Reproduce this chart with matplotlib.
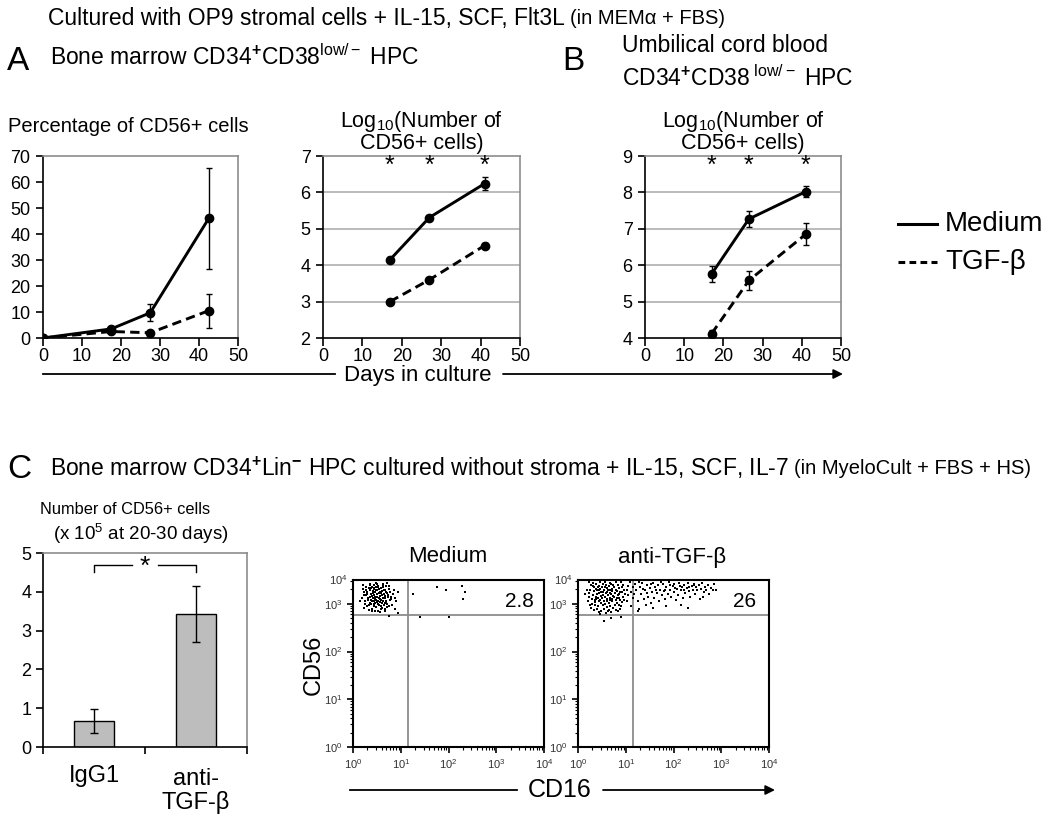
import matplotlib
matplotlib.use('Agg')
import matplotlib.pyplot as plt
import numpy as np

plt.rcParams['font.family'] = ['Liberation Sans', 'DejaVu Sans']
plt.rcParams['mathtext.fontset'] = 'custom'
plt.rcParams['mathtext.rm'] = 'Liberation Sans'
plt.rcParams['mathtext.it'] = 'Liberation Sans:italic'
plt.rcParams['mathtext.bf'] = 'Liberation Sans:bold'

# ---------------- data ----------------
# Panel A (bone marrow) percentage of CD56+ cells
pct_days = [0, 17.5, 27.5, 42.5]
pct_medium = [0, 3.5, 9.7, 46.0]
pct_medium_err = [0, 0.8, 3.3, 19.5]
pct_tgf = [0, 2.5, 2.0, 10.5]
pct_tgf_err = [0, 0.6, 0.5, 6.5]

# Panel A log10 number of CD56+ cells
a_days = [17, 27, 41]
a_medium = [4.15, 5.31, 6.24]
a_medium_err = [0.07, 0.05, 0.18]
a_tgf = [3.00, 3.60, 4.54]
a_tgf_err = [0.06, 0.05, 0.07]

# Panel B (cord blood) log10 number of CD56+ cells
b_days = [17, 26.5, 41]
b_medium = [5.76, 7.27, 8.02]
b_medium_err = [0.23, 0.23, 0.16]
b_tgf = [4.12, 5.58, 6.85]
b_tgf_err = [0.10, 0.27, 0.30]

# Panel C bar chart
bar_labels = ['IgG1', 'anti-\nTGF-β']
bar_values = [0.67, 3.43]
bar_err = [0.30, 0.73]

# Flow cytometry events, log10(CD16), log10(CD56)
medium_events = """
0.21 3.32 0.35 3.41 0.48 3.28 0.62 3.35 0.71 3.22 0.55 3.12 0.40 3.05 0.28 3.18 0.66 3.02 0.80 3.15
0.44 2.95 0.58 2.90 0.33 2.88 0.72 2.93 0.50 3.20 0.61 3.26 0.25 3.00 0.85 3.30 0.38 3.33 0.53 3.38
0.46 3.10 0.68 3.12 0.30 3.25 0.57 3.03 0.75 3.38 0.42 3.22 0.64 2.97 0.19 3.12 0.90 3.05 0.52 2.84
0.36 3.14 0.49 3.44 0.60 3.18 0.27 3.36 0.78 3.25 0.45 3.31 0.70 3.06 0.55 2.98 0.34 2.97 0.63 3.42
0.40 3.36 0.58 3.09 0.47 3.02 0.82 2.98 0.23 3.25 0.67 3.30 0.51 3.15 0.39 2.90 0.74 3.18 0.31 3.08
0.56 3.24 0.44 3.18 0.62 3.07 0.35 3.28 0.69 3.37 0.48 2.93 0.59 3.33 0.26 3.06 0.77 3.09 0.43 3.40
0.53 3.07 0.65 3.20 0.37 3.21 0.72 3.00 0.50 3.29 0.29 2.95 0.61 2.92 0.46 3.25 0.84 3.20 0.41 3.12
0.57 3.17 0.33 3.34 0.68 2.89 0.52 3.36 0.22 3.18 0.75 3.31 0.45 3.06 0.63 3.13 0.38 3.00 0.55 3.32
0.47 3.15 0.70 3.24 0.32 3.12 0.58 2.96 0.42 3.27 0.66 3.16 0.49 3.08 0.80 3.10 0.36 3.40 0.54 3.22
0.60 3.01 0.28 3.30 0.73 3.14 0.44 2.99 0.51 3.42 0.64 3.28 0.39 3.17 0.56 3.11 0.87 3.12 0.24 2.92
0.48 3.35 0.69 3.04 0.35 3.02 0.59 3.22 0.43 3.33 0.76 2.95 0.53 3.00 0.30 3.20 0.62 3.38 0.46 2.86
0.95 3.25 0.15 3.05 0.57 2.82 0.72 3.44 0.40 2.84 0.67 2.85 0.20 3.40 0.88 2.90 0.50 3.04 0.37 3.08
1.75 3.35 1.95 3.30 2.28 3.38 2.35 3.25 2.30 3.10 1.25 3.20 2.00 2.72 1.40 2.72 0.75 2.75 0.95 2.80
"""
anti_events = """
0.25 3.30 0.38 3.42 0.50 3.35 0.62 3.28 0.74 3.40 0.86 3.33 0.31 3.18 0.44 3.22 0.57 3.15 0.69 3.20
0.81 3.12 0.93 3.25 0.20 3.05 0.35 3.08 0.48 3.02 0.60 3.10 0.72 3.05 0.85 2.98 0.28 2.92 0.42 2.95
0.55 2.90 0.67 2.96 0.79 2.88 0.33 3.35 0.46 3.45 0.58 3.40 0.71 3.32 0.90 3.45 0.40 3.28 0.53 3.25
0.65 3.38 0.77 3.22 0.24 3.22 0.37 3.15 0.50 3.12 0.63 3.18 0.75 3.14 0.88 3.08 0.30 3.00 0.43 3.05
0.56 3.00 0.68 3.08 0.82 3.02 0.95 3.15 0.27 3.40 0.41 3.36 0.54 3.30 0.66 3.44 0.79 3.30 0.92 3.36
0.36 2.98 0.49 2.85 0.61 2.94 0.74 2.92 0.87 2.90 0.22 3.15 0.34 3.26 0.47 3.32 0.59 3.22 0.71 3.26
0.84 3.18 0.97 3.30 0.29 3.10 0.42 3.12 0.55 3.06 0.67 3.13 0.80 3.08 0.93 3.04 0.39 3.20 0.52 3.18
0.64 3.02 0.76 3.35 0.89 3.24 0.32 3.44 0.45 3.38 0.57 3.46 0.70 3.42 0.83 3.40 0.26 2.98 0.40 2.90
0.52 2.97 0.65 2.88 0.78 2.97 0.91 2.96 0.37 3.32 0.49 3.24 0.61 3.34 0.73 3.16 0.86 3.20 0.99 3.20
0.18 3.28 0.31 3.38 0.44 3.30 0.56 3.36 0.68 3.30 0.81 3.26 0.94 3.40 0.35 3.04 0.47 3.08 0.60 3.05
0.72 3.10 0.85 3.12 0.43 2.82 0.58 2.80 0.70 2.83 0.23 3.45 0.53 3.42 0.66 3.22 0.48 3.16 0.61 3.24
0.38 3.10 0.79 3.46 0.15 3.20 0.62 2.85 0.97 3.08 1.02 3.30 1.05 3.18 0.33 2.87 0.83 2.84 0.46 2.78
1.05 3.38 1.10 3.25 1.15 3.12 1.20 3.42 1.22 3.30 1.25 3.05 1.30 3.36 1.32 3.20 1.35 3.44 1.38 3.10
1.40 3.28 1.45 3.40 1.47 3.15 1.50 3.33 1.52 3.02 1.55 3.24 1.58 3.44 1.60 3.12 1.62 3.35 1.65 3.22
1.68 3.40 1.70 3.05 1.72 3.30 1.75 3.18 1.78 3.42 1.80 3.26 1.82 3.10 1.85 3.36 1.88 3.20 1.90 3.45
1.92 3.30 1.95 3.14 1.98 3.38 2.00 3.24 2.02 3.42 2.05 3.08 2.08 3.32 2.10 3.18 2.12 3.44 2.15 3.28
2.18 3.36 2.20 3.12 2.22 3.40 2.25 3.22 2.28 3.34 2.30 3.44 2.33 3.26 2.35 3.15 2.38 3.38 2.40 3.30
2.43 3.42 2.45 3.20 2.48 3.35 2.50 3.28 2.53 3.40 2.55 3.10 2.58 3.32 2.60 3.44 2.63 3.24 2.65 3.36
2.68 3.30 2.72 3.40 2.75 3.20 2.78 3.34 2.82 3.28 2.85 3.42 2.90 3.30 1.12 2.95 1.28 2.90 1.42 2.98
1.58 2.92 1.85 2.96 2.15 2.98 1.03 3.05 1.08 3.45 1.18 3.20 1.27 3.45 1.36 3.32 1.44 3.22 1.53 3.42
1.63 3.30 1.73 3.46 1.83 3.28 1.93 3.40 2.03 3.34 2.13 3.38 2.23 3.30 2.32 3.36 2.42 3.40 1.15 3.35
0.70 2.70 0.55 2.65 0.90 2.72 2.30 2.92 2.62 3.15 1.25 2.85
"""
quadrant_x = 1.145   # log10 CD16 gate
quadrant_y = 2.76    # log10 CD56 gate
flow_titles = ['Medium', 'anti-TGF-β']
flow_pct = ['2.8', '26']

# ---------------- layout ----------------
W, H = 1050, 821
fig = plt.figure(figsize=(W / 100, H / 100), dpi=100)

ov = fig.add_axes([0, 0, 1, 1], zorder=-5)
ov.set_xlim(0, W)
ov.set_ylim(H, 0)
ov.axis('off')


def add_ax(l, t, r, b):
    return fig.add_axes([l / W, 1 - b / H, (r - l) / W, (b - t) / H])


GRAY = '#8c8c8c'


def style_line_ax(ax, ylim, yticks, grid):
    ax.set_xlim(0, 50)
    ax.set_ylim(*ylim)
    ax.set_xticks(range(0, 51, 10))
    ax.set_yticks(yticks)
    ax.tick_params(labelsize=13, direction='out', length=6, width=1.2, pad=1)
    ax.tick_params(axis='y', length=5, pad=4)
    for s in ['left', 'bottom']:
        ax.spines[s].set_color('black')
        ax.spines[s].set_linewidth(1.2)
    for s in ['top', 'right']:
        ax.spines[s].set_color(GRAY)
        ax.spines[s].set_linewidth(1.2)
    if grid:
        for v in yticks[1:-1]:
            ax.axhline(v, color='#b5b5b5', lw=1.3, zorder=0)


def plot_series(ax, x, y, e, dashed):
    ls = (0, (3.2, 1.8)) if dashed else '-'
    ax.errorbar(x, y, yerr=e, color='black', lw=2.1, ls=ls, marker='o', ms=6,
                elinewidth=1, capsize=2.5, capthick=1, zorder=3)


# A1
ax1 = add_ax(43, 156, 238, 338)
style_line_ax(ax1, (0, 70), list(range(0, 71, 10)), False)
plot_series(ax1, pct_days, pct_medium, pct_medium_err, False)
plot_series(ax1, pct_days, pct_tgf, pct_tgf_err, True)

# A2
ax2 = add_ax(323, 156, 520, 338)
style_line_ax(ax2, (2, 7), [2, 3, 4, 5, 6, 7], True)
plot_series(ax2, a_days, a_medium, a_medium_err, False)
plot_series(ax2, a_days, a_tgf, a_tgf_err, True)
for d in a_days:
    ax2.text(d, 6.72, '*', ha='center', va='center', fontsize=18)

# B
ax3 = add_ax(645, 156, 841, 338)
style_line_ax(ax3, (4, 9), [4, 5, 6, 7, 8, 9], True)
plot_series(ax3, b_days, b_medium, b_medium_err, False)
plot_series(ax3, b_days, b_tgf, b_tgf_err, True)
for d in b_days:
    ax3.text(d, 8.72, '*', ha='center', va='center', fontsize=18)

# bar chart C
axb = add_ax(43, 553, 247, 747)
xpos = np.arange(len(bar_values))
axb.bar(xpos, bar_values, width=0.4, color='#bdbdbd', edgecolor='black', lw=1, zorder=2)
axb.errorbar(xpos, bar_values, yerr=bar_err, fmt='none', ecolor='black', elinewidth=1,
             capsize=3, capthick=1, zorder=3)
axb.set_xlim(-0.5, 1.5)
axb.set_ylim(0, 5)
axb.set_yticks(range(0, 6))
axb.set_xticks([-0.5, 0.5, 1.5])
axb.set_xticklabels([])
axb.tick_params(labelsize=13, direction='out', length=5, width=1.2)
for s in ['left', 'bottom']:
    axb.spines[s].set_linewidth(1.2)
for s in ['top', 'right']:
    axb.spines[s].set_color(GRAY)
    axb.spines[s].set_linewidth(1.2)
axb.plot([0, 0, 0.37], [4.5, 4.69, 4.69], color='black', lw=1)
axb.plot([0.63, 1, 1], [4.69, 4.69, 4.5], color='black', lw=1)
axb.text(0.5, 4.64, '*', ha='center', va='center', fontsize=19)
axb.text(xpos[0], -0.76, bar_labels[0], ha='center', va='center', fontsize=17)
axb.text(xpos[1], -1.13, bar_labels[1], ha='center', va='center', fontsize=17,
         linespacing=1.05)


# flow plots
def parse(s):
    v = np.array(s.split(), dtype=float).reshape(-1, 2)
    return v[:, 0], v[:, 1]


def flow(ax, ev, title, pct):
    x, y = parse(ev)
    ax.set_xscale('log')
    ax.set_yscale('log')
    ax.set_xlim(1, 1e4)
    ax.set_ylim(1, 10 ** 3.5)
    ax.scatter(10 ** x, 10 ** y, s=3.5, marker='s', c='black', linewidths=0, zorder=2)
    ax.axvline(10 ** quadrant_x, color=GRAY, lw=1.3, zorder=1)
    ax.axhline(10 ** quadrant_y, color=GRAY, lw=1.3, zorder=1)
    ax.set_xticks([1, 10, 100, 1000, 10000])
    ax.set_xticklabels(['$10^0$', '$10^1$', '$10^2$', '$10^3$', '$10^4$'])
    ax.set_yticks([1, 10, 100, 1000])
    ax.set_yticklabels(['$10^0$', '$10^1$', '$10^2$', '$10^3$'])
    ax.text(-0.03, 1.0, '$10^4$', transform=ax.transAxes, ha='right', va='center',
            fontsize=8, color='#333333')
    ax.tick_params(labelsize=8, labelcolor='#333333', direction='out', length=4, width=1.2)
    ax.tick_params(which='minor', length=2, width=0.8)
    for s in ax.spines.values():
        s.set_linewidth(1.5)
    ax.text(0.87, 0.87, pct, transform=ax.transAxes, ha='center', va='center', fontsize=15)


axf1 = add_ax(353, 580, 544, 747)
flow(axf1, medium_events, flow_titles[0], flow_pct[0])
axf2 = add_ax(578, 580, 769, 747)
flow(axf2, anti_events, flow_titles[1], flow_pct[1])

# ---------------- texts ----------------
r = fig.canvas.get_renderer()


def two_part(x, y, big, small, fb, fs):
    t = ov.text(x, y, big, fontsize=fb, va='center', ha='left')
    bb = t.get_window_extent(r)
    ov.text(x + bb.width + 5, y + 1, small, fontsize=fs, va='center', ha='left')


two_part(48, 18, 'Cultured with OP9 stromal cells + IL-15, SCF, Flt3L', '(in MEMα + FBS)', 16.5, 14.5)
ov.text(7, 62, 'A', fontsize=24, va='center', ha='left')
ov.text(50, 57, r'Bone marrow CD34$^{\mathbf{+}}$CD38$^{\mathrm{low/-}}$ HPC', fontsize=16.5,
        va='center', ha='left')
ov.text(562, 62, 'B', fontsize=24, va='center', ha='left')
ov.text(622, 45, 'Umbilical cord blood', fontsize=16.5, va='center', ha='left')
ov.text(622, 78, r'CD34$^{\mathbf{+}}$CD38$^{\mathrm{\ low/-}}$ HPC', fontsize=16.5,
        va='center', ha='left')

ov.text(8, 127, 'Percentage of CD56+ cells', fontsize=14.5, va='center', ha='left')
for cx in (421.5, 743):
    ov.text(cx, 122, r'Log$_{10}$(Number of', fontsize=15.5, va='center', ha='center')
    ov.text(cx, 143, 'CD56+ cells)', fontsize=15.5, va='center', ha='center')

# legend
ov.plot([898, 937], [224, 224], color='black', lw=2.2)
ov.plot([898, 937], [262, 262], color='black', lw=2.2, ls=(0, (2.2, 1.4)))
ov.text(945, 224, 'Medium', fontsize=20, va='center', ha='left')
ov.text(945, 262, 'TGF-β', fontsize=20, va='center', ha='left')

# days in culture axis
ov.text(418, 376, 'Days in culture', fontsize=16, va='center', ha='center')
ov.plot([43, 335], [374, 374], color='black', lw=1.3)
ov.annotate('', xy=(843, 374), xytext=(503, 374),
            arrowprops=dict(arrowstyle='-|>', lw=1.3, color='black', mutation_scale=14,
                            shrinkA=0, shrinkB=0))

# C header
ov.text(7, 470, 'C', fontsize=24, va='center', ha='left')
two_part(50, 468, r'Bone marrow CD34$^{\mathbf{+}}$Lin$^{\mathbf{-}}$ HPC cultured without stroma + IL-15, SCF, IL-7',
         '(in MyeloCult + FBS + HS)', 16.5, 14.5)
ov.text(125, 509, 'Number of CD56+ cells', fontsize=11.8, va='center', ha='center')
ov.text(141, 534, r'(x 10$^{5}$ at 20-30 days)', fontsize=13.5, va='center', ha='center')

# flow titles and axis labels
ov.text(448, 557, flow_titles[0], fontsize=16, va='center', ha='center')
ov.text(672, 557, flow_titles[1], fontsize=16, va='center', ha='center')
ov.text(314, 665, 'CD56', fontsize=17, va='center', ha='center', rotation=90)
ov.text(560, 790, 'CD16', fontsize=18, va='center', ha='center')
ov.plot([350, 517], [790, 790], color='black', lw=1.3)
ov.annotate('', xy=(775, 790), xytext=(603, 790),
            arrowprops=dict(arrowstyle='-|>', lw=1.3, color='black', mutation_scale=14,
                            shrinkA=0, shrinkB=0))

fig.savefig('out.png', dpi=100)
